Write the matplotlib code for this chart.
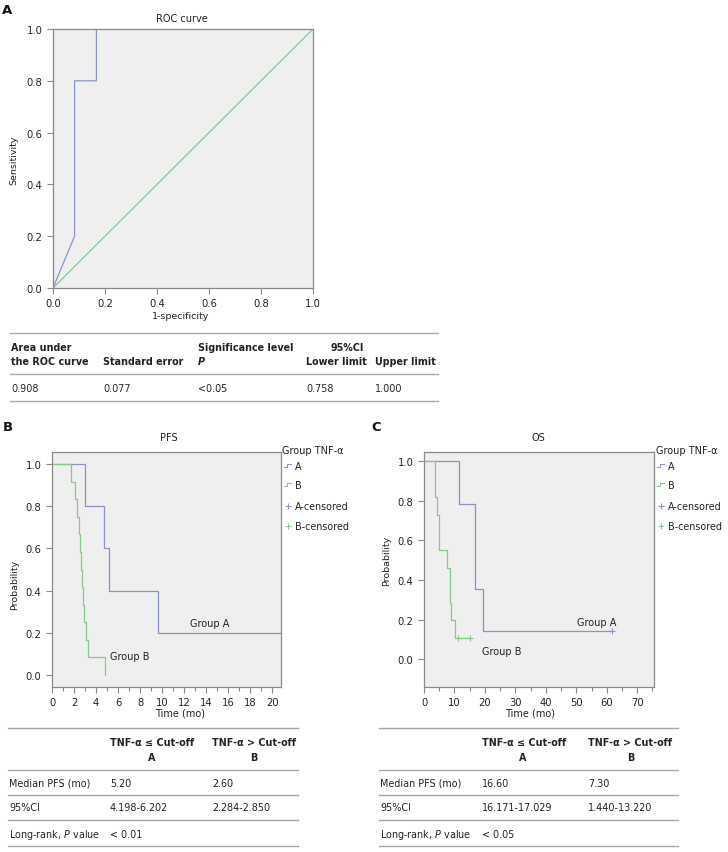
import matplotlib
matplotlib.use("Agg")
import matplotlib.pyplot as plt
from matplotlib.lines import Line2D
from matplotlib.ticker import MultipleLocator, FormatStrFormatter

plt.rcParams['font.family'] = ['DejaVu Sans']

# ---------------- data ----------------
roc_fpr = [0.0, 0.083, 0.083, 0.167, 0.167, 1.0]
roc_tpr = [0.0, 0.2, 0.8, 0.8, 1.0, 1.0]
ref_x = [0.0, 1.0]
ref_y = [0.0, 1.0]

pfs_a_time = [0, 3.0, 4.7, 5.2, 9.6, 20.8]
pfs_a_surv = [1.0, 0.8, 0.6, 0.4, 0.2, 0.2]
pfs_b_time = [0, 1.7, 2.1, 2.3, 2.45, 2.55, 2.65, 2.75, 2.85, 2.95, 3.1, 3.25, 4.8]
pfs_b_surv = [1.0, 0.917, 0.833, 0.75, 0.667, 0.583, 0.5, 0.417, 0.333, 0.25, 0.167, 0.083, 0.0]

os_a_time = [0, 11.5, 16.6, 16.9, 19.4, 61.8]
os_a_surv = [1.0, 0.786, 0.571, 0.357, 0.143, 0.143]
os_a_cens_t = [61.8]
os_a_cens_s = [0.143]
os_b_time = [0, 3.6, 4.3, 4.9, 7.6, 8.45, 8.6, 9.0, 10.1, 15.0]
os_b_surv = [1.0, 0.818, 0.727, 0.55, 0.46, 0.37, 0.283, 0.197, 0.105, 0.105]
os_b_cens_t = [11.0, 15.0]
os_b_cens_s = [0.105, 0.105]

roc_header1 = ["Area under", "", "Significance level"]
roc_header2 = ["the ROC curve", "Standard error", "P", "Lower limit", "Upper limit"]
roc_values = ["0.908", "0.077", "<0.05", "0.758", "1.000"]

pfs_rows = [["Median PFS (mo)", "5.20", "2.60"],
            ["95%CI", "4.198-6.202", "2.284-2.850"],
            [r"Long-rank, $P$ value", "< 0.01", ""]]
os_rows = [["Median PFS (mo)", "16.60", "7.30"],
           ["95%CI", "16.171-17.029", "1.440-13.220"],
           [r"Long-rank, $P$ value", "< 0.05", ""]]
legend_labels = ["A", "B", "A-censored", "B-censored"]

# ---------------- style ----------------
W, H = 728, 853
BLUE = '#8a92ca'
GREEN = '#88c888'
BG = '#efefef'
FRAME = '#8a8a8a'
LINEC = '#a8a8a8'
FS = 7.2
TFS = 6.9

fig = plt.figure(figsize=(W / 100, H / 100), dpi=100)


def fx(x):
    return x / W


def fy(y):
    return 1 - y / H


def axes_px(l, t, r, b):
    return fig.add_axes([fx(l), fy(b), (r - l) / W, (b - t) / H])


def style_axes(ax):
    ax.set_facecolor(BG)
    for s in ax.spines.values():
        s.set_color(FRAME)
        s.set_linewidth(0.9)
    ax.tick_params(which='both', direction='out', color=FRAME, labelsize=FS,
                   labelcolor='#222222', width=0.8)
    ax.tick_params(which='major', length=4)
    ax.tick_params(which='minor', length=3)


def ftext(x, y, s, **kw):
    kw.setdefault('fontsize', TFS)
    kw.setdefault('va', 'center')
    kw.setdefault('ha', 'left')
    kw.setdefault('color', '#222222')
    fig.text(fx(x), fy(y), s, **kw)


def hline(x0, x1, y, color=LINEC, lw=1.0):
    fig.add_artist(Line2D([fx(x0), fx(x1)], [fy(y), fy(y)],
                          transform=fig.transFigure, color=color, lw=lw))


# ---------------- Panel A ----------------
ftext(2, 10, "A", fontsize=9.5, fontweight='bold', color='#111111')
axA = axes_px(53, 30, 313, 289)
style_axes(axA)
axA.plot(ref_x, ref_y, color=GREEN, lw=0.9)
axA.plot(roc_fpr, roc_tpr, color=BLUE, lw=0.9)
axA.set_xlim(0, 1)
axA.set_ylim(0, 1)
axA.xaxis.set_major_locator(MultipleLocator(0.2))
axA.yaxis.set_major_locator(MultipleLocator(0.2))
axA.xaxis.set_major_formatter(FormatStrFormatter('%.1f'))
axA.yaxis.set_major_formatter(FormatStrFormatter('%.1f'))
ftext(182, 19, "ROC curve", ha='center', fontsize=7)
ftext(14, 160, "Sensitivity", ha='center', rotation=90, fontsize=6.8)
ftext(181, 317, "1-specificity", ha='center', fontsize=6.8)

# table A
hline(10, 438, 334)
hline(10, 438, 375)
hline(10, 438, 402)
ftext(11, 348, roc_header1[0], fontweight='bold')
ftext(198, 348, roc_header1[2], fontweight='bold')
ftext(347, 348, "95%CI", fontweight='bold', ha='center')
colx_A = [11, 103, 198, 306, 375]
for x, s in zip(colx_A, roc_header2):
    if s == "P":
        ftext(x, 362, s, fontweight='bold', fontstyle='italic')
    else:
        ftext(x, 362, s, fontweight='bold')
for x, s in zip(colx_A, roc_values):
    ftext(x, 389, s)


# ---------------- KM panels ----------------
def km_panel(letter, lx, title, tx, rect, xlim, ylim, major, minor,
             a_t, a_s, b_t, b_s, a_ct, a_cs, b_ct, b_cs,
             labA, labB, ylab_pos, xlab_pos, leg_x, sym_x, txt_x):
    ftext(lx, 428, letter, fontsize=9.5, fontweight='bold', color='#111111')
    ax = axes_px(*rect)
    style_axes(ax)
    ax.plot(a_t, a_s, drawstyle='steps-post', color=BLUE, lw=0.9)
    ax.plot(b_t, b_s, drawstyle='steps-post', color=GREEN, lw=0.9)
    if a_ct:
        ax.plot(a_ct, a_cs, ls='none', marker='+', ms=4, mew=0.8, color=BLUE)
    if b_ct:
        ax.plot(b_ct, b_cs, ls='none', marker='+', ms=4, mew=0.8, color=GREEN)
    ax.set_xlim(*xlim)
    ax.set_ylim(*ylim)
    ax.xaxis.set_major_locator(MultipleLocator(major))
    ax.xaxis.set_minor_locator(MultipleLocator(minor))
    ax.yaxis.set_major_formatter(FormatStrFormatter('%.1f'))
    ax.set_yticks([0, 0.2, 0.4, 0.6, 0.8, 1.0])
    ax.text(labA[0], labA[1], "Group A", fontsize=7, ha='center', va='center', color='#222222')
    ax.text(labB[0], labB[1], "Group B", fontsize=7, ha='center', va='center', color='#222222')
    ftext(tx, 438, title, ha='center', fontsize=7)
    ftext(ylab_pos[0], ylab_pos[1], "Probability", ha='center', rotation=90, fontsize=6.8)
    ftext(xlab_pos[0], xlab_pos[1], "Time (mo)", ha='center', fontsize=7)
    # legend
    ftext(leg_x, 451, "Group TNF-\u03b1", fontsize=7)
    ys = [467, 486, 507, 527]
    cols = [BLUE, GREEN, BLUE, GREEN]
    for i, (lab, yy, c) in enumerate(zip(legend_labels, ys, cols)):
        if i < 2:
            xs = [fx(sym_x), fx(sym_x + 3), fx(sym_x + 3), fx(sym_x + 7)]
            yv = [fy(yy + 1), fy(yy + 1), fy(yy - 2), fy(yy - 2)]
            fig.add_artist(Line2D(xs, yv, transform=fig.transFigure, color=c, lw=0.8))
        else:
            fig.add_artist(Line2D([fx(sym_x + 3.5)], [fy(yy)], transform=fig.transFigure,
                                  color=c, marker='+', ms=4, mew=0.8, ls='none'))
        ftext(txt_x, yy, lab, fontsize=6.9)
    return ax


km_panel("B", 3, "PFS", 169, (52, 453, 281, 688), (0, 20.8), (-0.057, 1.057), 2, 1,
         pfs_a_time, pfs_a_surv, pfs_b_time, pfs_b_surv, [], [], [], [],
         (14.3, 0.246), (7.1, 0.091), (15, 585), (180, 714), 282, 284, 295)
km_panel("C", 371, "OS", 538, (424, 453, 654, 688), (0, 75.5), (-0.14, 1.047), 10, 5,
         os_a_time, os_a_surv, os_b_time, os_b_surv, os_a_cens_t, os_a_cens_s,
         os_b_cens_t, os_b_cens_s,
         (56.8, 0.19), (25.5, 0.04), (387, 561), (530, 714), 656, 657, 668)


# ---------------- KM tables ----------------
def km_table(x0, x1, c0, ca, cb, ha_a, ha_b, rows):
    for y in [729, 771, 796, 821, 847]:
        hline(x0, x1, y)
    ftext(ca, 743, "TNF-\u03b1 \u2264 Cut-off", fontweight='bold')
    ftext(cb, 743, "TNF-\u03b1 > Cut-off", fontweight='bold')
    ftext(ha_a, 758, "A", fontweight='bold', ha='center')
    ftext(ha_b, 758, "B", fontweight='bold', ha='center')
    for y, row in zip([784, 808, 835], rows):
        ftext(c0, y, row[0])
        ftext(ca, y, row[1])
        ftext(cb, y, row[2])


km_table(8, 298, 9, 110, 212, 152, 254, pfs_rows)
km_table(379, 678, 380, 482, 588, 523, 631, os_rows)

fig.savefig("out.png", dpi=100, facecolor='white')
